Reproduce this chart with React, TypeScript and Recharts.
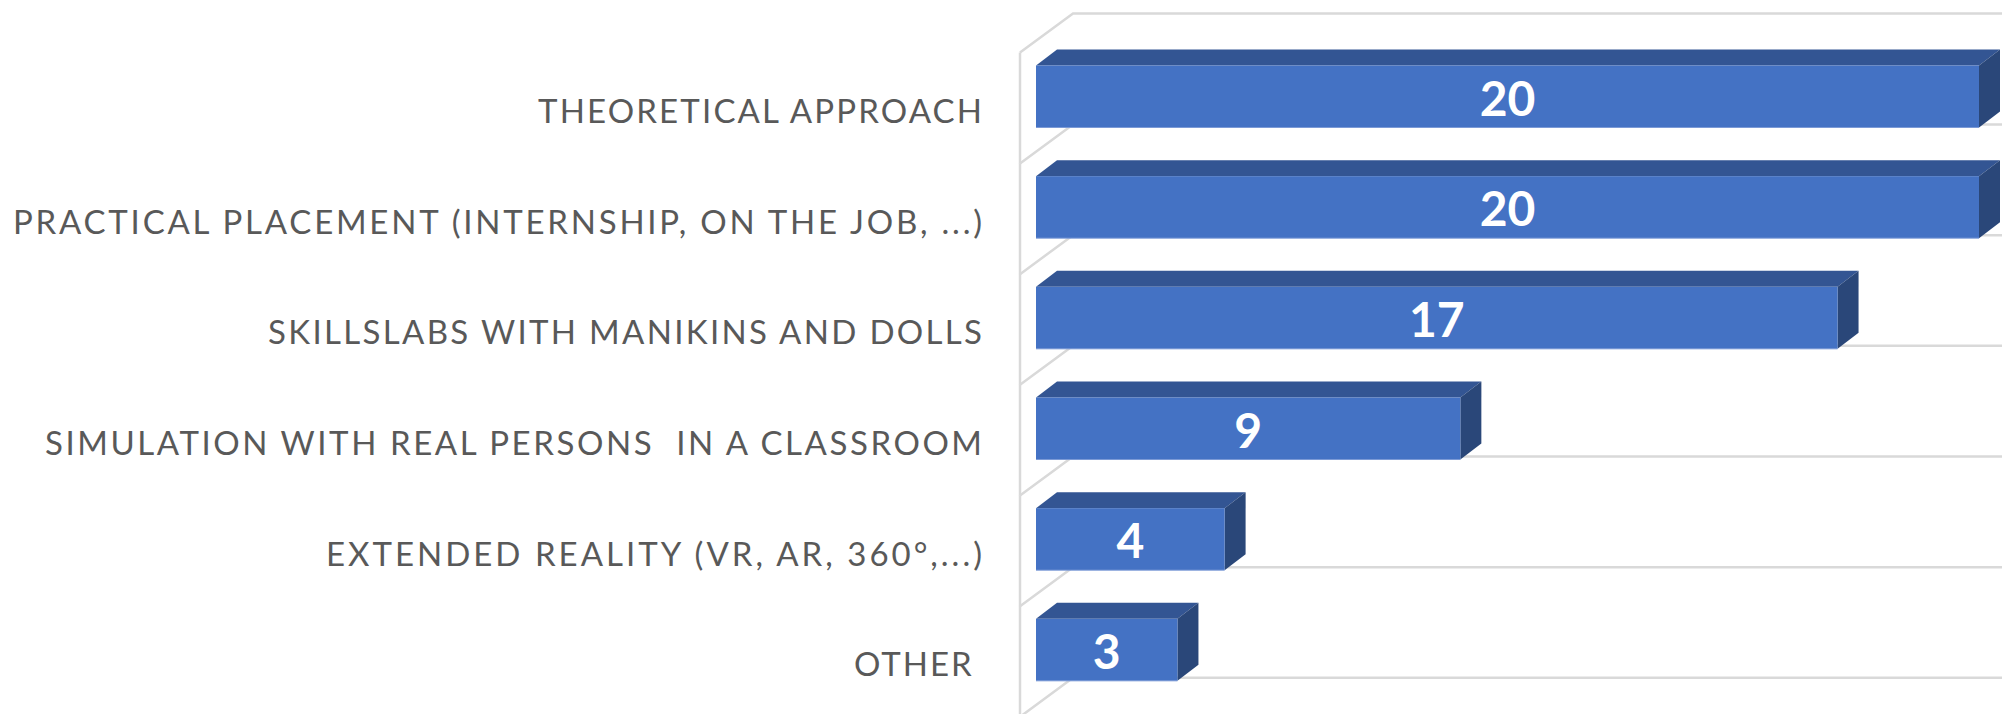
import { Bar, BarChart, LabelList, XAxis, YAxis } from 'recharts';

const categories = [
  'THEORETICAL APPROACH',
  'PRACTICAL PLACEMENT (INTERNSHIP, ON THE JOB, ...)',
  'SKILLSLABS WITH MANIKINS AND DOLLS',
  'SIMULATION WITH REAL PERSONS  IN A CLASSROOM',
  'EXTENDED REALITY (VR, AR, 360°,...)',
  'OTHER ',
];
const counts = [20, 20, 17, 9, 4, 3];

const data = categories.map((name, i) => ({ name, count: counts[i] }));

// the source font is narrower than Lato, so each label is fitted to its measured length
const labelLengths: Record<string, number> = {
  'THEORETICAL APPROACH': 444,
  'PRACTICAL PLACEMENT (INTERNSHIP, ON THE JOB, ...)': 969,
  'SKILLSLABS WITH MANIKINS AND DOLLS': 714,
  'SIMULATION WITH REAL PERSONS  IN A CLASSROOM': 937,
  'EXTENDED REALITY (VR, AR, 360°,...)': 656,
  'OTHER ': 128,
};

const FRONT = '#4472C4';
const TOP = '#335593';
const SIDE = '#2A4779';
const EDGE = '#7C9AD6';
const GRID = '#D9D9D9';
const DEPTH_X = 21;
const DEPTH_Y = 16;

function Bar3D({ x, y, width, height }: any) {
  const right = x + width;
  const bottom = y + height;
  return (
    <g>
      <polygon
        points={`${x},${y} ${x + DEPTH_X},${y - DEPTH_Y} ${right + DEPTH_X},${y - DEPTH_Y} ${right},${y}`}
        fill={TOP}
      />
      <polygon
        points={`${right},${y} ${right + DEPTH_X},${y - DEPTH_Y} ${right + DEPTH_X},${bottom - DEPTH_Y} ${right},${bottom}`}
        fill={SIDE}
      />
      <rect x={x} y={y} width={width} height={height} fill={FRONT} />
      <line x1={x} x2={right} y1={bottom} y2={bottom} stroke={EDGE} strokeWidth={1} />
    </g>
  );
}

// floor and walls of the fake 3D box, drawn once per category behind the bars
function WallBand({ x, y, index }: any) {
  const frontX = x - 16;
  const backX = x + 37;
  const segment = (frontY: number, backY: number) =>
    `M${frontX},${frontY} L${backX},${backY} L2002,${backY}`;
  return (
    <g fill="none" stroke={GRID} strokeWidth={2.5}>
      {index === 0 && <path d={segment(y - 13, y - 52)} />}
      <path d={segment(y + 98, y + 59)} />
      <path d={`M${frontX},${y - 13} L${frontX},${y + 98}`} />
    </g>
  );
}

function CategoryTick({ x, y, payload }: any) {
  return (
    <text
      x={x}
      y={y}
      dy={26}
      textAnchor="end"
      fill="#595959"
      fontFamily="Lato"
      fontSize={33}
      textLength={labelLengths[payload.value]}
      lengthAdjust="spacing"
      style={{ whiteSpace: 'pre' }}
    >
      {payload.value}
    </text>
  );
}

export default function App() {
  return (
    <div style={{ position: 'absolute', left: 0, top: 0, width: 2002, height: 714, overflow: 'hidden' }}>
      <BarChart
        width={2002}
        height={714}
        data={data}
        layout="vertical"
        margin={{ top: 41.5, right: 23, bottom: 8.5, left: 0 }}
        barSize={62}
      >
        <XAxis type="number" domain={[0, 20]} hide />
        <YAxis
          type="category"
          dataKey="name"
          width={1036}
          axisLine={false}
          tickLine={false}
          tickMargin={48}
          interval={0}
          tick={<CategoryTick />}
        />
        <Bar
          dataKey="count"
          isAnimationActive={false}
          shape={<Bar3D />}
          background={<WallBand />}
        >
          <LabelList
            dataKey="count"
            position="center"
            fill="#FFFFFF"
            fontFamily="Lato"
            fontWeight={700}
            fontSize={48}
            dy={2}
          />
        </Bar>
      </BarChart>
    </div>
  );
}
